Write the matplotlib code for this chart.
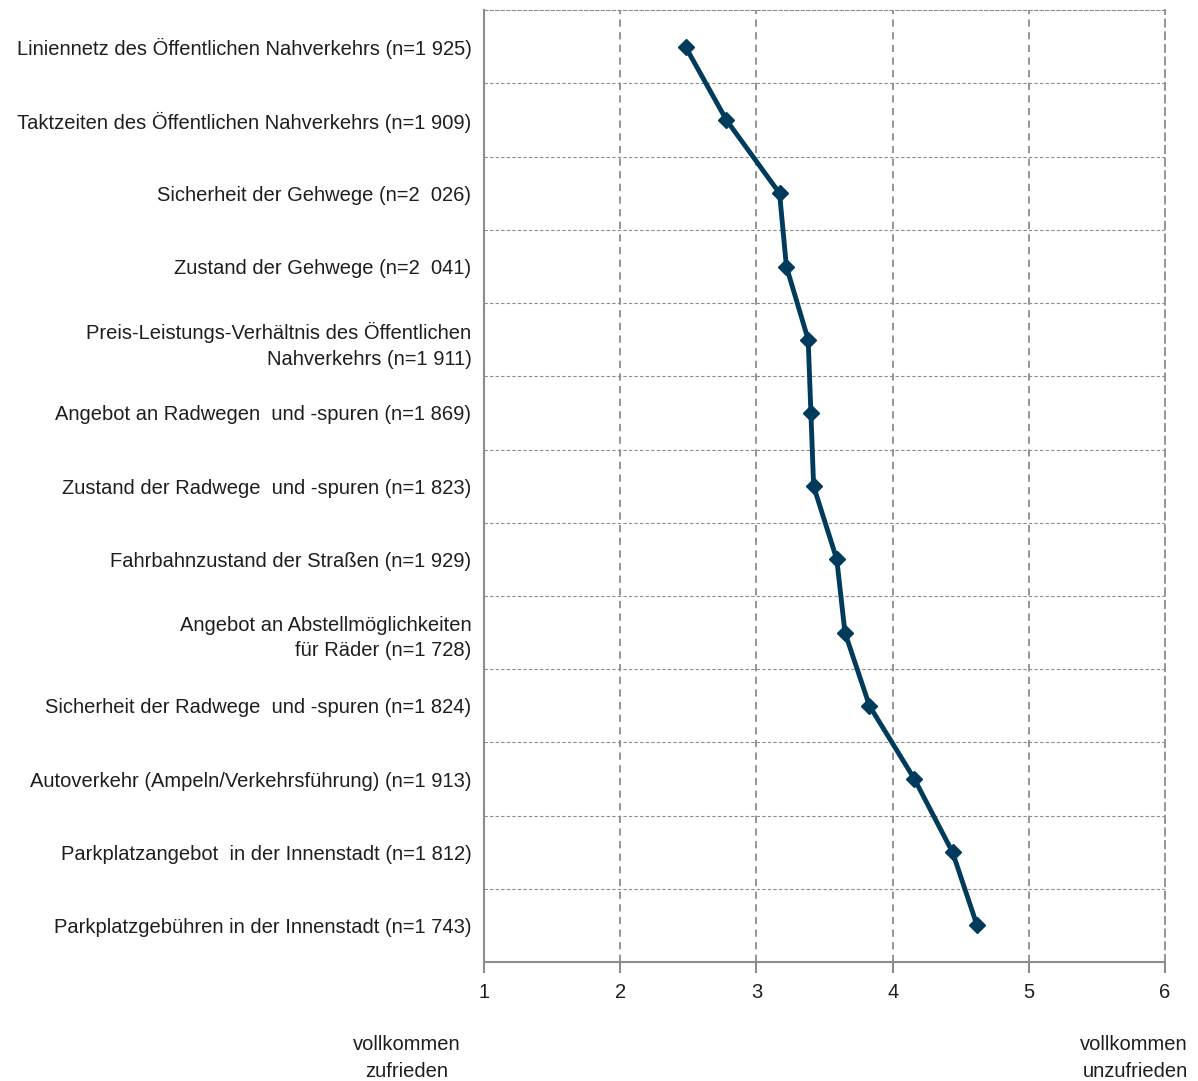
import numpy as np
import matplotlib.pyplot as plt

categories = [
    "Liniennetz des Öffentlichen Nahverkehrs (n=1 925)",
    "Taktzeiten des Öffentlichen Nahverkehrs (n=1 909)",
    "Sicherheit der Gehwege (n=2  026)",
    "Zustand der Gehwege (n=2  041)",
    "Preis-Leistungs-Verhältnis des Öffentlichen\nNahverkehrs (n=1 911)",
    "Angebot an Radwegen  und -spuren (n=1 869)",
    "Zustand der Radwege  und -spuren (n=1 823)",
    "Fahrbahnzustand der Straßen (n=1 929)",
    "Angebot an Abstellmöglichkeiten\nfür Räder (n=1 728)",
    "Sicherheit der Radwege  und -spuren (n=1 824)",
    "Autoverkehr (Ampeln/Verkehrsführung) (n=1 913)",
    "Parkplatzangebot  in der Innenstadt (n=1 812)",
    "Parkplatzgebühren in der Innenstadt (n=1 743)",
]
values = [2.48, 2.78, 3.17, 3.22, 3.38, 3.40, 3.42, 3.59, 3.65, 3.83, 4.16, 4.44, 4.62]
xticks = [1, 2, 3, 4, 5, 6]

plt.rcParams['font.family'] = ['Liberation Sans', 'DejaVu Sans']

fig = plt.figure(figsize=(11.98, 10.81), dpi=100)
ax = fig.add_axes([0.404, 0.110, 0.5685, 0.8805])

y = np.arange(len(categories))
ax.plot(values, y, color='#003b5c', linewidth=3.5, marker='D', markersize=8, zorder=5)

ax.set_xlim(1, 6)
ax.set_ylim(len(categories) - 0.5, -0.5)

grid_col = '#8c8c8c'
txt_col = '#1e1e1e'
for xv in xticks[1:-1]:
    ax.axvline(xv, color=grid_col, linestyle=(0, (4, 3)), linewidth=1.3, zorder=1)
for i in range(len(categories) - 1):
    ax.axhline(i + 0.5, color=grid_col, linestyle=(0, (3, 2)), linewidth=0.8, zorder=1)

ax.spines['left'].set_color(grid_col)
ax.spines['left'].set_linewidth(1.5)
ax.spines['bottom'].set_color(grid_col)
ax.spines['bottom'].set_linewidth(1.5)
for s in ['top', 'right']:
    ax.spines[s].set_color(grid_col)
    ax.spines[s].set_linewidth(0.8)
    ax.spines[s].set_linestyle((0, (3, 2)))
ax.spines['right'].set_linewidth(1.3)
ax.spines['right'].set_linestyle((0, (4, 3)))

ax.set_xticks(xticks)
ax.set_xticklabels([str(t) for t in xticks], fontsize=14.5, color=txt_col)
ax.tick_params(axis='x', length=8, width=1.5, color=grid_col, pad=7)
ax.set_yticks(y)
ax.set_yticklabels(categories, fontsize=14.5, color=txt_col, ha='right',
                   linespacing=1.45)
ax.tick_params(axis='y', length=0, pad=9)

fig.text(407 / 1198, 1 - 1058 / 1081, "vollkommen\nzufrieden", ha='center', va='center',
         fontsize=14.5, color=txt_col, linespacing=1.55)
fig.text(1188 / 1198, 1 - 1058 / 1081, "vollkommen\nunzufrieden", ha='right', va='center',
         fontsize=14.5, color=txt_col, linespacing=1.55, multialignment='right')

fig.savefig('out.png', dpi=100)
